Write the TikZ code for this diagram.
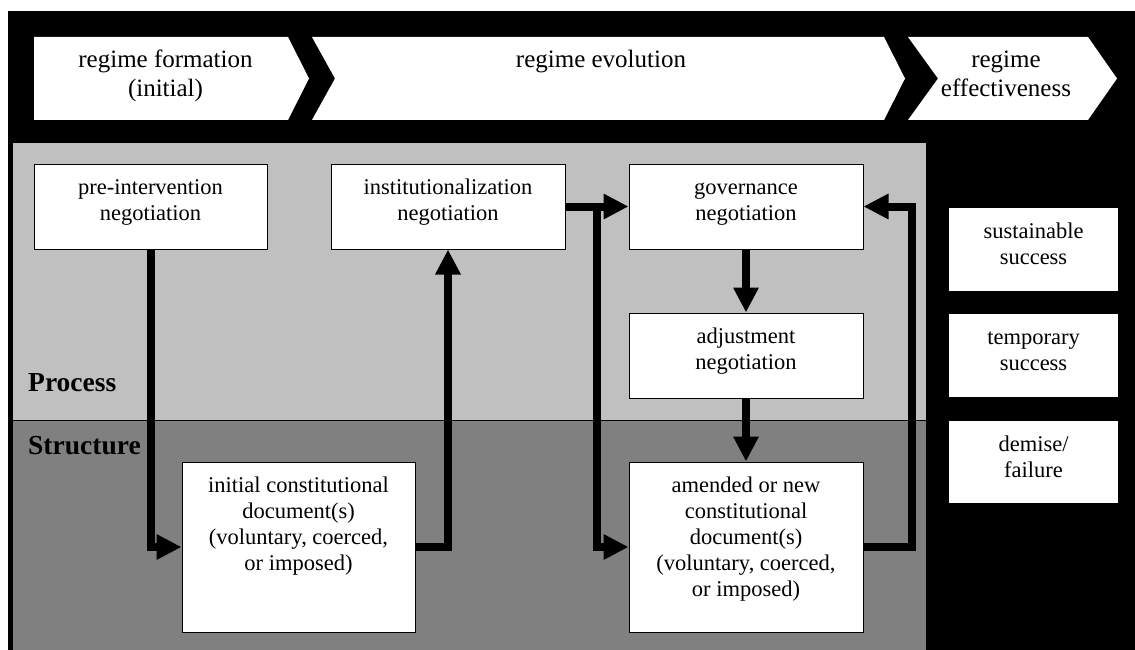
\documentclass[tikz,border=0pt]{standalone}
\usepackage{fontspec}
\setmainfont{Liberation Serif}
\usetikzlibrary{arrows.meta}
\definecolor{lgrey}{RGB}{192,192,192}
\definecolor{dgrey}{RGB}{128,128,128}
\newcommand\bxtext[3]{\parbox[c][#2][t]{#1}{\centering\rule{0pt}{30pt}#3}}
\newcommand\hdtext[2]{\parbox[t]{#1}{\centering #2}}
\begin{document}
\begin{tikzpicture}[x=1pt,y=-1pt,
  box/.style={draw=black, line width=1pt, fill=white, inner sep=0pt, font=\fontsize{22.5}{26}\selectfont},
  rbox/.style={fill=white, inner sep=0pt, font=\fontsize{22.5}{26}\selectfont},
  hdr/.style={anchor=base, inner sep=0pt, font=\fontsize{25}{29}\selectfont},
  arr/.style={line width=8pt, -{Triangle[length=25pt,width=24pt]}},
  lbl/.style={anchor=base west, inner sep=0pt, font=\fontsize{27.5}{30}\selectfont\bfseries}]

\useasboundingbox (0,0) rectangle (1135,650);
\fill[white] (0,0) rectangle (1135,650);
\fill[black] (8,11) rectangle (1135,650);
\fill[lgrey] (13,143) rectangle (926,420);
\fill[dgrey] (13,420) rectangle (926,650);
\draw[line width=1pt] (13,420) -- (926,420);

% chevrons
\fill[white] (34,37) -- (288,37) -- (309,78.5) -- (288,120) -- (34,120) -- cycle;
\fill[white] (312,37) -- (884,37) -- (905,78.5) -- (884,120) -- (312,120) -- (335,78.5) -- cycle;
\fill[white] (908,37) -- (1088,37) -- (1117,78.5) -- (1088,120) -- (908,120) -- (938,78.5) -- cycle;

\node[hdr] (h1) at (165.5,68) {\hdtext{240pt}{regime formation\\(initial)}};
\node[hdr] (h2) at (601,68) {regime evolution};
\node[hdr] (h3) at (1006,68) {\hdtext{180pt}{regime\\effectiveness}};

\node[lbl] (proc) at (28,391) {Process};
\node[lbl] (struc) at (28,454) {Structure};

% boxes
\node[box] (pre) at (150.5,206.5) {\bxtext{233pt}{85pt}{pre-intervention\\negotiation}};
\node[box] (inst) at (448,206.5) {\bxtext{234pt}{85pt}{institutionalization\\negotiation}};
\node[box] (gov) at (746,206.5) {\bxtext{234pt}{85pt}{governance\\negotiation}};
\node[box] (adj) at (746,355.5) {\bxtext{234pt}{85pt}{adjustment\\negotiation}};
\node[box] (amend) at (746,547) {\bxtext{234pt}{170pt}{amended or new\\constitutional\\document(s)\\(voluntary, coerced,\\or imposed)}};
\node[box] (init) at (298.5,547) {\bxtext{233pt}{170pt}{initial constitutional\\document(s)\\(voluntary, coerced,\\or imposed)}};

\node[rbox] (sus) at (1033.5,249.5) {\bxtext{169pt}{83pt}{sustainable\\success}};
\node[rbox] (temp) at (1033.5,355.5) {\bxtext{169pt}{83pt}{temporary\\success}};
\node[rbox] (dem) at (1033.5,462) {\bxtext{169pt}{82pt}{demise/\\failure}};

% connectors
\draw[arr] (pre.south) |- (init.west);
\draw[arr] (init.east) -| (inst.south);
\draw[arr] (inst.east) -- (gov.west);
\path (inst.east) -- (gov.west) coordinate[pos=0.5] (br);
\draw[arr] (br) |- (amend.west);
\draw[arr] (gov.south) -- (adj.north);
\draw[arr] (adj.south) -- (amend.north);
\draw[arr] (amend.east) -- ++(48,0) |- (gov.east);
\end{tikzpicture}
\end{document}
